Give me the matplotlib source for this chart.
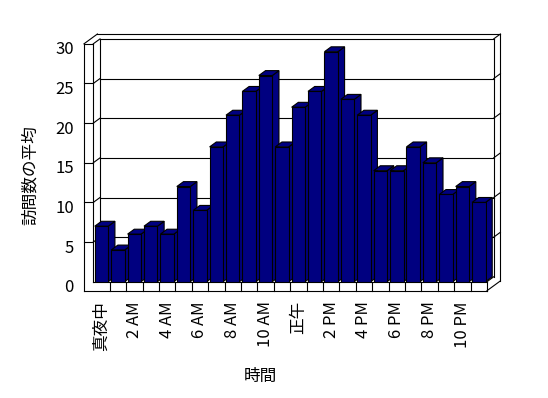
import numpy as np
import matplotlib
matplotlib.use("Agg")
import matplotlib.pyplot as plt
from matplotlib.patches import Polygon
from matplotlib.transforms import ScaledTranslation

plt.rcParams["font.family"] = ["Noto Sans CJK JP", "DejaVu Sans"]
plt.rcParams["font.size"] = 12

# average visits per hour (0:00 .. 23:00)
hours = np.arange(24)
visits = [7, 4, 6, 7, 6, 12, 9, 17, 21, 24, 26, 17,
          22, 24, 29, 23, 21, 14, 14, 17, 15, 11, 12, 10]
tick_labels = ["真夜中", "2 AM", "4 AM", "6 AM", "8 AM", "10 AM",
               "正午", "2 PM", "4 PM", "6 PM", "8 PM", "10 PM"]
yticks = [0, 5, 10, 15, 20, 25, 30]

W, H = 548, 398
fig = plt.figure(figsize=(W / 100, H / 100), dpi=100)
# axes = front plane of the bars (pixel box measured on the reference)
x_left, x_right, y_zero, y_top = 93.3, 487.0, 281.7, 43.8
ax = fig.add_axes([x_left / W, 1 - y_zero / H,
                   (x_right - x_left) / W, (y_zero - y_top) / H])
ax.set_xlim(-0.5, 23.5)
ax.set_ylim(0, 30)
for s in ax.spines.values():
    s.set_visible(False)
ax.patch.set_alpha(0)

# pixel -> data unit sizes
ux = (x_right - x_left) / 24
uy = (y_zero - y_top) / 30
dx, dy = 6.7 / ux, 4.9 / uy      # depth step
tl = 9.3 / ux                   # left wall thickness
tf = 9.0 / uy                   # floor thickness
xL, xR = -0.5, 23.5
lw = 0.8


def seg(x0, y0, x1, y1, z=1):
    ax.plot([x0, x1], [y0, y1], color="black", lw=lw, clip_on=False,
            zorder=z, solid_capstyle="projecting")


# back wall (inner face at depth 1, outer at depth 2)
seg(xL + dx, 30 + dy, xR + dx, 30 + dy)
seg(xR + dx, dy, xR + dx, 30 + dy)
seg(xL + dx, dy, xL + dx, 30 + dy)
seg(xL - tl + 2 * dx, 30 + 2 * dy, xR + 2 * dx, 30 + 2 * dy)
seg(xR + dx, 30 + dy, xR + 2 * dx, 30 + 2 * dy)
seg(xR + 2 * dx, 30 + 2 * dy, xR + 2 * dx, -tf + 2 * dy)
for v in yticks[1:-1]:
    seg(xL + dx, v + dy, xR + dx, v + dy)
    seg(xR + dx, v + dy, xR + 2 * dx, v + 2 * dy)
    # ticks on the left wall
    seg(xL - tl, v, xL, v)
    seg(xL, v, xL + dx, v + dy)

# left wall
seg(xL - tl, -tf, xL - tl, 30)
seg(xL, 0, xL, 30)
seg(xL - tl, 30, xL, 30)
seg(xL - tl, 30, xL - tl + 2 * dx, 30 + 2 * dy)
seg(xL, 30, xL + dx, 30 + dy)

# floor
seg(xL, 0, xR, 0)
seg(xL - tl, -tf, xR, -tf)
seg(xR, 0, xR, -tf)
seg(xR, -tf, xR + 2 * dx, -tf + 2 * dy)
seg(xR, 0, xR + dx, dy)
for k in range(1, 24):
    seg(xL + k, 0, xL + k, -tf)

# bars with top and side faces
bw = 0.82
navy = "#000080"
bars = ax.bar(hours, visits, width=bw, color=navy, edgecolor="black",
              linewidth=lw)
for i, (x, v) in enumerate(zip(hours, visits)):
    z = 3 + i * 0.02
    xa, xb = x - bw / 2, x + bw / 2
    top = Polygon([(xa, v), (xb, v), (xb + dx, v + dy), (xa + dx, v + dy)],
                  closed=True, facecolor=navy, edgecolor="black", lw=lw,
                  zorder=z, clip_on=False)
    side = Polygon([(xb, 0), (xb + dx, dy), (xb + dx, v + dy), (xb, v)],
                   closed=True, facecolor=navy, edgecolor="black", lw=lw,
                   zorder=z, clip_on=False)
    ax.add_patch(side)
    ax.add_patch(top)
    bars[i].set_zorder(z + 0.01)

# ticks
ax.set_xticks(hours[::2], tick_labels, rotation=90)
ax.set_yticks(yticks)
ax.tick_params(axis="x", length=0, pad=14)
ax.tick_params(axis="y", length=0, pad=14)
shift = ScaledTranslation(0, -4 / 100, fig.dpi_scale_trans)
for lab in ax.get_yticklabels():
    lab.set_transform(lab.get_transform() + shift)

fig.text(30 / W, 1 - 175 / H, "訪問数の平均", rotation=90, ha="center",
         va="center", fontsize=12)
fig.text(260 / W, 1 - 376 / H, "時間", ha="center", va="center", fontsize=12)

fig.savefig("out.png", dpi=100, facecolor="white")
